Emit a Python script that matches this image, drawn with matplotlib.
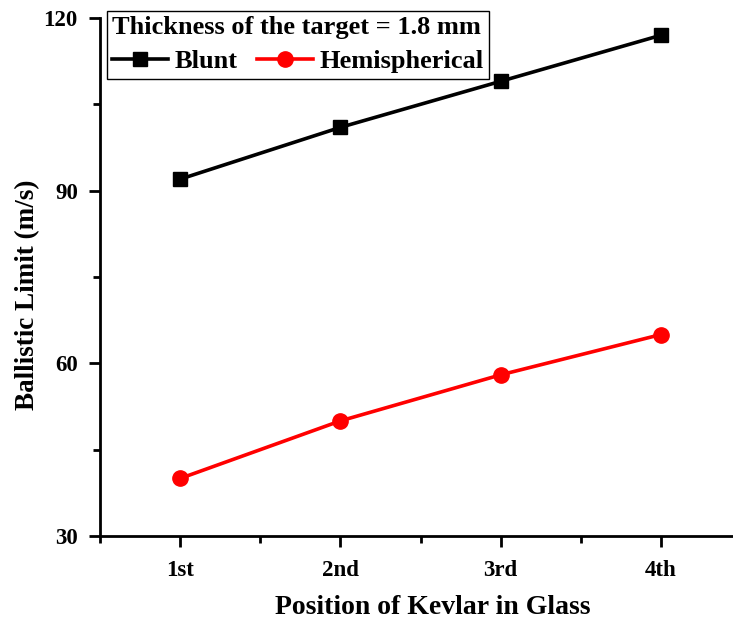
import matplotlib
matplotlib.use("Agg")
import matplotlib.pyplot as plt
from matplotlib.ticker import MultipleLocator

positions = ["1st", "2nd", "3rd", "4th"]
blunt = [92, 101, 109, 117]
hemispherical = [40, 50, 58, 65]

plt.rcParams['font.family'] = ['Liberation Serif', 'DejaVu Serif']
plt.rcParams['font.weight'] = 'bold'

fig = plt.figure(figsize=(7.33, 6.25), dpi=100)
ax = fig.add_axes([100/733, 1 - 536/625, 1 - 100/733, (536 - 18)/625])

x = list(range(1, len(positions) + 1))
ax.plot(x, blunt, color='black', marker='s', markersize=10, linewidth=2.6, label='Blunt')
ax.plot(x, hemispherical, color='red', marker='o', markersize=11, linewidth=2.6, label='Hemispherical')

ax.set_xlim(0.5, 4.45)
ax.set_ylim(30, 120)
ax.set_xticks(x)
ax.set_xticklabels(positions)
ax.xaxis.set_minor_locator(MultipleLocator(0.5))
ax.set_yticks([30, 60, 90, 120])
ax.yaxis.set_minor_locator(MultipleLocator(15))

for s in ['top', 'right']:
    ax.spines[s].set_visible(False)
for s in ['left', 'bottom']:
    ax.spines[s].set_linewidth(2)

ax.tick_params(axis='both', which='major', direction='out', length=8, width=2, labelsize=16.5, pad=8)
ax.tick_params(axis='both', which='minor', direction='out', length=5, width=2)
ax.tick_params(axis='x', which='major', pad=9)
for lbl in ax.get_xticklabels() + ax.get_yticklabels():
    lbl.set_fontweight('bold')

ax.set_xlabel('Position of Kevlar in Glass', fontsize=20, fontweight='bold')
ax.set_ylabel('Ballistic Limit (m/s)', fontsize=19.5, fontweight='bold')
ax.xaxis.label.set_va('top')
ax.xaxis.set_label_coords(0.525, -(593 - 536 + 2) / 518)
ax.yaxis.set_label_coords(-(100 - 40) / 633, (536 - 295) / 518)

leg = ax.legend(title='Thickness of the target = 1.8 mm', ncol=2, loc='upper left',
                bbox_to_anchor=(7/633, (536 - 11)/518), fontsize=19, title_fontsize=19,
                frameon=True, fancybox=False, edgecolor='black', framealpha=1,
                handlelength=2.1, columnspacing=0.72, handletextpad=0.28,
                borderpad=0.2, labelspacing=0.4, borderaxespad=0.0)
leg.get_title().set_fontweight('bold')
leg.get_frame().set_linewidth(1)
leg._legend_box.align = 'left'

fig.savefig('out.png', dpi=100)
